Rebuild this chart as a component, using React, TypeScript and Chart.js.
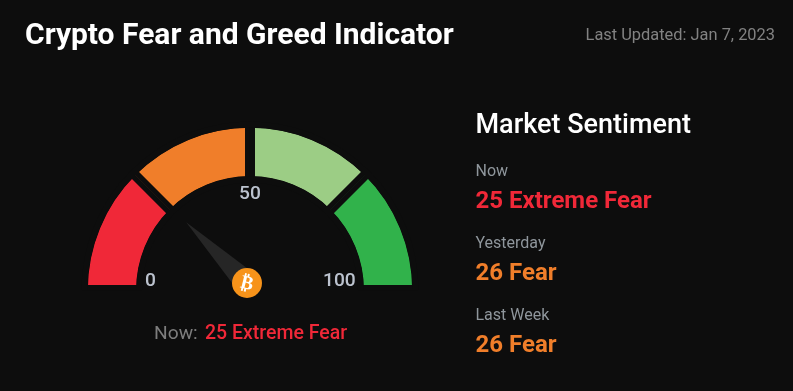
import React, { useEffect, useRef } from "react";
import { Chart, registerables } from "chart.js";

Chart.register(...registerables);

const segmentValues = [25, 25, 25, 25];
const segmentColors = ["#f02838", "#f07e2a", "#9ccd85", "#31b24b"];
const currentValue = 25;
const gaugeMax = 100;
const BG = "#0d0d0d";

const ringCleanPlugin = {
  id: "ringClean",
  afterDatasetsDraw(chart: any) {
    const arc = chart.getDatasetMeta(0).data[0];
    const bw = 5;
    const { ctx } = chart;
    ctx.save();
    ctx.strokeStyle = BG;
    ctx.lineWidth = bw + 1;
    ctx.beginPath();
    ctx.arc(arc.x, arc.y, arc.outerRadius - bw / 2 + 0.5, Math.PI, Math.PI * 2);
    ctx.stroke();
    ctx.beginPath();
    ctx.arc(arc.x, arc.y, arc.innerRadius + bw / 2 - 0.5, Math.PI, Math.PI * 2);
    ctx.stroke();
    ctx.restore();
  },
};

const needlePlugin = {
  id: "needle",
  afterDatasetsDraw(chart: any) {
    const arc = chart.getDatasetMeta(0).data[0];
    const { ctx } = chart;
    const px = arc.x - 3;
    const py = arc.y - 7;
    const a = Math.PI + (currentValue / gaugeMax) * Math.PI;
    const len = 86;
    const hw = 12;
    ctx.save();
    ctx.translate(px, py);
    ctx.rotate(a);
    ctx.fillStyle = "#262626";
    ctx.beginPath();
    ctx.moveTo(len, 0);
    ctx.lineTo(0, -hw);
    ctx.lineTo(0, hw);
    ctx.closePath();
    ctx.fill();
    ctx.restore();
    ctx.save();
    ctx.translate(px, py);
    ctx.fillStyle = "#f7931a";
    ctx.beginPath();
    ctx.arc(0, 0, 15, 0, Math.PI * 2);
    ctx.fill();
    ctx.rotate((14 * Math.PI) / 180);
    ctx.fillStyle = "#ffffff";
    ctx.font = "bold 19px 'DejaVu Sans'";
    ctx.textAlign = "center";
    ctx.textBaseline = "middle";
    ctx.fillText("\u20BF", 0, 1);
    ctx.restore();
  },
};

const base: React.CSSProperties = {
  position: "absolute",
  whiteSpace: "nowrap",
  fontFamily: "Roboto, sans-serif",
  lineHeight: 1,
  margin: 0,
};

function Label(props: {
  x: number;
  y: number;
  size: number;
  color: string;
  weight?: number;
  right?: number;
  children: React.ReactNode;
}) {
  const { x, y, size, color, weight = 400, right, children } = props;
  const style: React.CSSProperties = {
    ...base,
    top: y,
    fontSize: size,
    color,
    fontWeight: weight,
  };
  if (right !== undefined) style.right = right;
  else style.left = x;
  return <div style={style}>{children}</div>;
}

export default function App() {
  const ref = useRef<HTMLCanvasElement | null>(null);
  useEffect(() => {
    document.body.style.margin = "0";
    document.body.style.background = BG;
    const chart = new Chart(ref.current!, {
      type: "doughnut",
      data: {
        labels: ["Extreme Fear", "Fear", "Greed", "Extreme Greed"],
        datasets: [
          {
            data: segmentValues,
            backgroundColor: segmentColors,
            borderColor: BG,
            borderWidth: 5,
            borderAlign: "inner",
            borderJoinStyle: "miter",
            hoverOffset: 0,
          } as any,
        ],
      },
      options: {
        responsive: false,
        animation: false,
        rotation: -90,
        circumference: 180,
        radius: 167.5,
        cutout: "64.84%",
        events: [],
        layout: { padding: { left: 0, right: 293, top: 21.5, bottom: 0 } },
        plugins: { legend: { display: false }, tooltip: { enabled: false } },
      } as any,
      plugins: [ringCleanPlugin, needlePlugin],
    });
    return () => chart.destroy();
  }, []);

  return (
    <div style={{ position: "relative", width: 793, height: 391, background: BG, overflow: "hidden" }}>
      <canvas ref={ref} width={793} height={391} style={{ position: "absolute", left: 0, top: 0, display: "block" }} />
      <Label x={25} y={19} size={30} color="#ffffff" weight={700}>Crypto Fear and Greed Indicator</Label>
      <Label x={0} right={18} y={27} size={16.4} color="#828282">Last Updated: Jan 7, 2023</Label>

      <Label x={145} y={270} size={19.2} color="#bcc3cf" weight={500}>0</Label>
      <Label x={239} y={183} size={19.2} color="#bcc3cf" weight={500}>50</Label>
      <Label x={323} y={270} size={19.2} color="#bcc3cf" weight={500}>100</Label>

      <Label x={154} y={323} size={19.2} color="#7d7d7d">Now:</Label>
      <Label x={205} y={323} size={19.5} color="#f02838" weight={500}>25 Extreme Fear</Label>

      <Label x={475.5} y={111} size={27} color="#ffffff" weight={500}>Market Sentiment</Label>
      <Label x={475.5} y={163} size={16} color="#8f969c">Now</Label>
      <Label x={475.5} y={188} size={24} color="#f02838" weight={700}>25 Extreme Fear</Label>
      <Label x={475.5} y={235} size={16} color="#8f969c">Yesterday</Label>
      <Label x={475.5} y={260} size={24} color="#f07e2a" weight={700}>26 Fear</Label>
      <Label x={475.5} y={307} size={16} color="#8f969c">Last Week</Label>
      <Label x={475.5} y={332} size={24} color="#f07e2a" weight={700}>26 Fear</Label>
    </div>
  );
}
